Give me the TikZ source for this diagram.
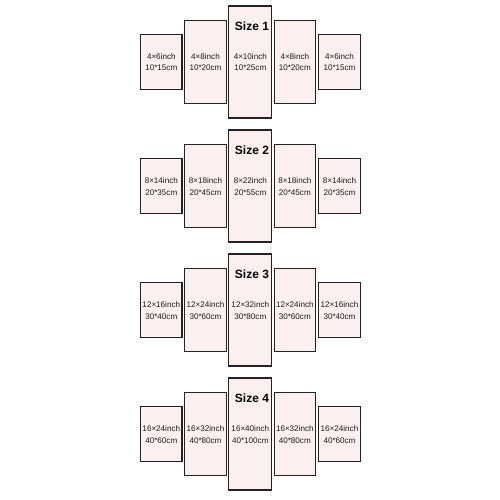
\documentclass[tikz,border=0pt]{standalone}
\usepackage{fontspec}
\setmainfont{Liberation Sans}
\definecolor{panelfill}{HTML}{FCEFEF}
\definecolor{panelline}{HTML}{222222}
\definecolor{txt}{HTML}{1A1A1A}
\tikzset{
  panel/.style={draw=panelline, fill=panelfill, line width=1.15pt, inner sep=0pt, minimum width=41.3pt},
  short/.style={panel, minimum height=55.3pt},
  mid/.style={panel, minimum height=83.3pt},
  tall/.style={panel, minimum height=112.1pt, minimum width=42.9pt},
  dim/.style={anchor=base, inner sep=0pt, text=txt, font=\fontsize{8.1}{9.7}\selectfont},
  title/.style={anchor=base, inner sep=0pt, text=black, font=\fontsize{12}{14}\selectfont\bfseries}
}
\newcommand\sizerow[9]{%
  \node[short] (r#1a) at (161.3,#2) {};
  \node[mid]   (r#1b) at (205.5,#2) {};
  \node[tall]  (r#1c) at (250.3,#2) {};
  \node[mid]   (r#1d) at (294.8,#2) {};
  \node[short] (r#1e) at (339.5,#2) {};
  \node[title] (r#1t) at (252,#2-31.3) {Size #1};
  \node[dim] (r#1ai) at (161.3,#2-2.5) {#3};
  \node[dim] (r#1ac) at (161.3,#2+9) {#4};
  \node[dim] (r#1bi) at (205.5,#2-2.5) {#5};
  \node[dim] (r#1bc) at (205.5,#2+9) {#6};
  \node[dim] (r#1ci) at (250.3,#2-2.5) {#7};
  \node[dim] (r#1cc) at (250.3,#2+9) {#8};
  \node[dim] (r#1di) at (294.8,#2-2.5) {#5};
  \node[dim] (r#1dc) at (294.8,#2+9) {#6};
  \node[dim] (r#1ei) at (339.5,#2-2.5) {#3};
  \node[dim] (r#1ec) at (339.5,#2+9) {#4};
}
\begin{document}
\begin{tikzpicture}[x=1pt,y=-1pt]
\useasboundingbox[fill=white] (0,0) rectangle (500,500);
\sizerow{1}{62}{4×6inch}{10*15cm}{4×8inch}{10*20cm}{4×10inch}{10*25cm}{}
\sizerow{2}{186}{8×14inch}{20*35cm}{8×18inch}{20*45cm}{8×22inch}{20*55cm}{}
\sizerow{3}{310}{12×16inch}{30*40cm}{12×24inch}{30*60cm}{12×32inch}{30*80cm}{}
\sizerow{4}{434}{16×24inch}{40*60cm}{16×32inch}{40*80cm}{16×40inch}{40*100cm}{}
\end{tikzpicture}
\end{document}
